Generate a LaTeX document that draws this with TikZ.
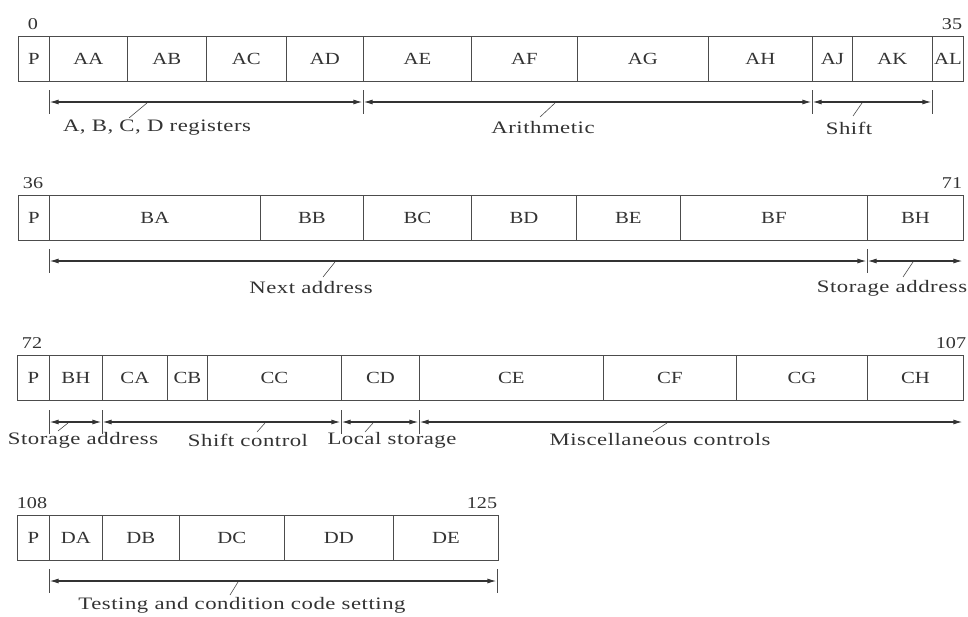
\documentclass[tikz,border=0pt]{standalone}
\usepackage{fontspec}
\setmainfont{Liberation Serif}[FakeStretch=1.22]
\newfontfamily\labfont{Liberation Serif}[FakeStretch=1.3,LetterSpace=3]
\usetikzlibrary{arrows.meta}
\newcommand\fld[5]{\node[fieldbox,minimum width={(#3-#2)*1pt}] (#1) at (#2,#4) {#5};}
\newcommand\tck[3]{\coordinate (#1) at (#2,#3); \draw[tickline] ([yshift=12pt]#1) -- ([yshift=-12pt]#1);}
\begin{document}
\begin{tikzpicture}[x=1pt,y=-1pt,
  fieldbox/.style={draw=black!70, line width=0.8pt, inner sep=0pt, minimum height=45pt, anchor=west,
    font=\fontsize{17}{17}\selectfont, text=black!80},
  num/.style={inner sep=0pt, font=\fontsize{16.5}{16.5}\selectfont, text=black!80},
  lab/.style={inner sep=0pt, font=\labfont\fontsize{17.5}{17.5}\selectfont, text=black!80},
  tickline/.style={draw=black!70, line width=0.7pt},
  span/.style={draw=black!80, line width=1.2pt, {Latex[length=9pt,width=5pt]}-{Latex[length=9pt,width=5pt]}, shorten <=0.6pt, shorten >=0.6pt},
  leader/.style={draw=black!70, line width=0.6pt}]
\useasboundingbox (0,0) rectangle (968,616);
\fill[white] (0,0) rectangle (968,616);

% ---------- Row 1 ----------
\node[num] (n0) at (33,24) {0};
\node[num] (n35) at (952,24) {35};
\fld{r1p}{18}{49}{58.5}{P}
\fld{aa}{49}{127}{58.5}{AA}
\fld{ab}{127}{206}{58.5}{AB}
\fld{ac}{206}{286}{58.5}{AC}
\fld{ad}{286}{363}{58.5}{AD}
\fld{ae}{363}{471}{58.5}{AE}
\fld{af}{471}{577}{58.5}{AF}
\fld{ag}{577}{708}{58.5}{AG}
\fld{ah}{708}{812}{58.5}{AH}
\fld{aj}{812}{852}{58.5}{AJ}
\fld{ak}{852}{932}{58.5}{AK}
\fld{al}{932}{963}{58.5}{AL}
\tck{t1a}{49}{102}
\tck{t1b}{363}{102}
\tck{t1c}{812}{102}
\tck{t1d}{932}{102}
\draw[span] (t1a) -- (t1b);
\draw[span] (t1b) -- (t1c);
\draw[span] (t1c) -- (t1d);
\node[lab] (l1a) at (157,128) {A, B, C, D registers};
\node[lab] (l1b) at (543,128) {Arithmetic};
\node[lab] (l1c) at (849,128) {Shift};
\coordinate (k1a) at (147,103); \coordinate (e1a) at (129,118);
\coordinate (k1b) at (555,103); \coordinate (e1b) at (540,117);
\coordinate (k1c) at (862,103); \coordinate (e1c) at (853,116);
\draw[leader] (k1a) -- (e1a);
\draw[leader] (k1b) -- (e1b);
\draw[leader] (k1c) -- (e1c);

% ---------- Row 2 ----------
\node[num] (n36) at (33,183) {36};
\node[num] (n71) at (952,183) {71};
\fld{r2p}{18}{49}{217.5}{P}
\fld{ba}{49}{260}{217.5}{BA}
\fld{bb}{260}{363}{217.5}{BB}
\fld{bc}{363}{471}{217.5}{BC}
\fld{bd}{471}{576}{217.5}{BD}
\fld{be}{576}{680}{217.5}{BE}
\fld{bf}{680}{867}{217.5}{BF}
\fld{bh}{867}{963}{217.5}{BH}
\tck{t2a}{49}{261}
\tck{t2b}{867}{261}
\coordinate (t2c) at (963,261);
\draw[span] (t2a) -- (t2b);
\draw[span] (t2b) -- (t2c);
\node[lab] (l2a) at (311,288) {Next address};
\node[lab] (l2b) at (892,288) {Storage address};
\coordinate (k2a) at (335,262); \coordinate (e2a) at (323,277);
\coordinate (k2b) at (913,262); \coordinate (e2b) at (903,277);
\draw[leader] (k2a) -- (e2a);
\draw[leader] (k2b) -- (e2b);

% ---------- Row 3 ----------
\node[num] (n72) at (32,343) {72};
\node[num] (n107) at (951,343) {107};
\fld{r3p}{17}{49}{377.5}{P}
\fld{bh3}{49}{102}{377.5}{BH}
\fld{ca}{102}{167}{377.5}{CA}
\fld{cb}{167}{207}{377.5}{CB}
\fld{cc}{207}{341}{377.5}{CC}
\fld{cd}{341}{419}{377.5}{CD}
\fld{ce}{419}{603}{377.5}{CE}
\fld{cf}{603}{736}{377.5}{CF}
\fld{cg}{736}{867}{377.5}{CG}
\fld{ch}{867}{963}{377.5}{CH}
\tck{t3a}{49}{422}
\tck{t3b}{102}{422}
\tck{t3c}{341}{422}
\tck{t3d}{419}{422}
\coordinate (t3e) at (963,422);
\draw[span] (t3a) -- (t3b);
\draw[span] (t3b) -- (t3c);
\draw[span] (t3c) -- (t3d);
\draw[span] (t3d) -- (t3e);
\node[lab] (l3a) at (83,440) {Storage address};
\node[lab] (l3b) at (248,440) {Shift control};
\node[lab] (l3c) at (392,440) {Local storage};
\node[lab] (l3d) at (660,440) {Miscellaneous controls};
\coordinate (k3a) at (68,423); \coordinate (e3a) at (58,431);
\coordinate (k3b) at (265,423); \coordinate (e3b) at (257,432);
\coordinate (k3c) at (373,423); \coordinate (e3c) at (365,432);
\coordinate (k3d) at (667,423); \coordinate (e3d) at (653,432);
\draw[leader] (k3a) -- (e3a);
\draw[leader] (k3b) -- (e3b);
\draw[leader] (k3c) -- (e3c);
\draw[leader] (k3d) -- (e3d);

% ---------- Row 4 ----------
\node[num] (n108) at (32,503) {108};
\node[num] (n125) at (482,503) {125};
\fld{r4p}{17}{49}{537.5}{P}
\fld{da}{49}{102}{537.5}{DA}
\fld{db}{102}{179}{537.5}{DB}
\fld{dc}{179}{284}{537.5}{DC}
\fld{dd}{284}{393}{537.5}{DD}
\fld{de}{393}{498}{537.5}{DE}
\tck{t4a}{49}{581}
\tck{t4b}{497}{581}
\draw[span] (t4a) -- (t4b);
\node[lab] (l4a) at (242,605) {Testing and condition code setting};
\coordinate (k4a) at (238,582); \coordinate (e4a) at (230,595);
\draw[leader] (k4a) -- (e4a);
\end{tikzpicture}
\end{document}
